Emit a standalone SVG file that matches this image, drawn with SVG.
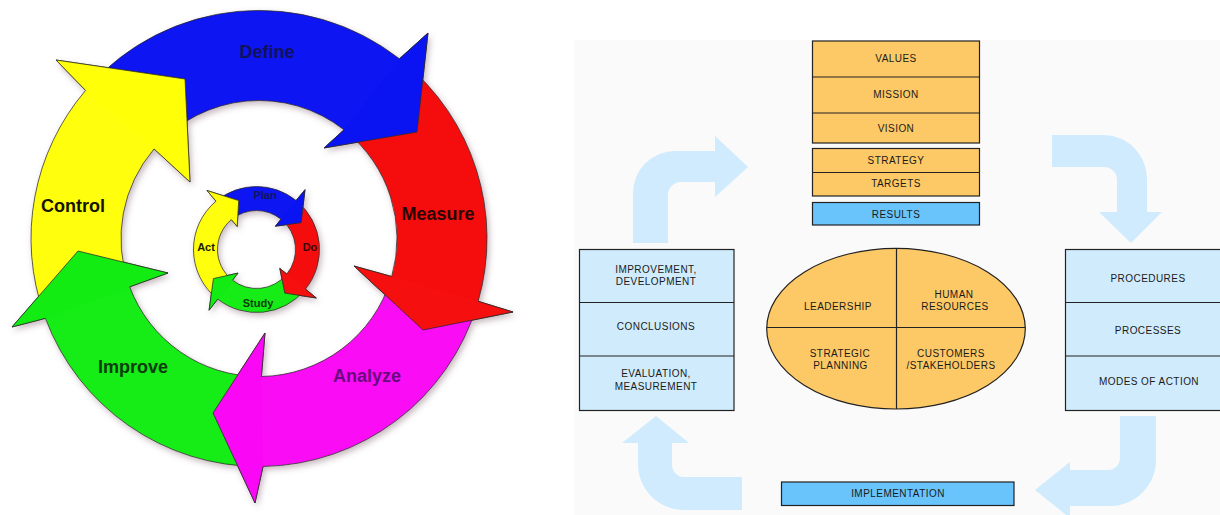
<svg xmlns="http://www.w3.org/2000/svg" width="1220" height="515" viewBox="0 0 1220 515">
<defs>
<filter id="sh" x="-10%" y="-10%" width="120%" height="120%">
<feDropShadow dx="2" dy="3" stdDeviation="3" flood-color="#806070" flood-opacity="0.45"/>
</filter>
<style>
.arw{stroke:#2a2a2a;stroke-width:1;stroke-linejoin:miter;stroke-opacity:0.75}
.hd{stroke:none}
.hs{fill:none;stroke:#2a2a2a;stroke-width:1;stroke-opacity:0.75}
.blue{fill:#0a14f2}.red{fill:#f50f0f}.mag{fill:#fa08f5}.grn{fill:#12ec12}.yel{fill:#ffff08}
.big{font-family:"Liberation Sans",Arial,sans-serif;font-weight:bold;font-size:18px;text-anchor:middle}
.sml{font-family:"Liberation Sans",Arial,sans-serif;font-weight:bold;font-size:11px;text-anchor:middle}
.t{font-family:"Liberation Sans",Arial,sans-serif;font-size:10px;fill:#1a1a1a;text-anchor:middle;letter-spacing:0.45px}
.ob{fill:#fdc966;stroke:#222;stroke-width:1.2}
.lb{fill:#d0ebfc;stroke:#222;stroke-width:1.2}
.db{fill:#69c4fc;stroke:#222;stroke-width:1.2}
.la{fill:#cfebfd}
.ln{stroke:#222;stroke-width:1.2;fill:none}
</style>
</defs>
<rect width="1220" height="515" fill="#ffffff"/>
<rect x="574" y="40" width="646" height="475" fill="#fafafa"/>

<!-- Left: outer DMAIC cycle -->
<g id="outer-cycle">
<g id="outer-bodies" filter="url(#sh)">
<path id="arrow-define" class="arw blue" d="M88.2,87.4 A228,228 0 0 1 399.4,58.8 L428,33 L417,132 L324,148 L344,129.8 A138,138 0 0 0 155.6,147.1 Z"/>
<path id="arrow-measure" class="arw red" d="M402.5,61.3 A228,228 0 0 1 478.2,301.3 L513,312 L423,330 L354,266 L391.7,276.5 A138,138 0 0 0 345.8,131.3 Z"/>
<path id="arrow-analyze" class="arw mag" d="M477,305.2 A228,228 0 0 1 263,466.5 L255,503 L213,413 L265,333 L261.4,376.5 A138,138 0 0 0 391,278.9 Z"/>
<path id="arrow-improve" class="arw grn" d="M259,466.5 A228,228 0 0 1 45.4,318.3 L12,327 L78,251 L168,273 L129.7,286.8 A138,138 0 0 0 259,376.5 Z"/>
<path id="arrow-control" class="arw yel" d="M44.1,314.6 A228,228 0 0 1 85.6,90.4 L56,60 L185,79 L190,182 L154.1,148.9 A138,138 0 0 0 128.9,284.6 Z"/>
</g>
<g id="outer-heads">
<path class="hd blue" d="M399.4,58.8 L428,33 L417,132 L324,148 L344,129.8 Z"/>
<path class="hs" d="M399.4,58.8 L428,33 L417,132 L324,148 L344,129.8"/>
<path class="hd red" d="M478.2,301.3 L513,312 L423,330 L354,266 L391.7,276.5 Z"/>
<path class="hs" d="M478.2,301.3 L513,312 L423,330 L354,266 L391.7,276.5"/>
<path class="hd mag" d="M263,466.5 L255,503 L213,413 L265,333 L261.4,376.5 Z"/>
<path class="hs" d="M263,466.5 L255,503 L213,413 L265,333 L261.4,376.5"/>
<path class="hd grn" d="M45.4,318.3 L12,327 L78,251 L168,273 L129.7,286.8 Z"/>
<path class="hs" d="M45.4,318.3 L12,327 L78,251 L168,273 L129.7,286.8"/>
<path class="hd yel" d="M85.6,90.4 L56,60 L185,79 L190,182 L154.1,148.9 Z"/>
<path class="hs" d="M85.6,90.4 L56,60 L185,79 L190,182 L154.1,148.9"/>
</g>
<g id="outer-labels">
<text class="big" x="267" y="58" fill="#12125a">Define</text>
<text class="big" x="438" y="219.5" fill="#2a0505">Measure</text>
<text class="big" x="367" y="381.5" fill="#6a0a80">Analyze</text>
<text class="big" x="133" y="373" fill="#0c3d0c">Improve</text>
<text class="big" x="73" y="211.5" fill="#141400">Control</text>
</g>
</g>

<!-- Left: inner PDSA cycle -->
<g id="inner-cycle">
<g id="inner-bodies" filter="url(#sh)">
<path id="arrow-plan" class="arw blue" d="M216.9,200.5 A63,63 0 0 1 296.1,200.5 L305,189.7 L301.1,222.7 L275.4,226.2 L281,219.2 A39,39 0 0 0 232,219.2 Z"/>
<path id="arrow-do" class="arw red" d="M297,201.2 A63,63 0 0 1 305.5,289.1 L316.3,298 L284.8,293.1 L279.8,268.4 L286.8,274 A39,39 0 0 0 281.6,219.6 Z"/>
<path id="arrow-study" class="arw grn" d="M304.8,290 A63,63 0 0 1 217.7,299.1 L209.1,310.2 L213.4,278.6 L238,273.1 L232.5,280.2 A39,39 0 0 0 286.4,274.6 Z"/>
<path id="arrow-act" class="arw yel" d="M216.9,298.5 A63,63 0 0 1 216,201.2 L207,190.5 L238.7,200.6 L237.2,226.5 L231.4,219.6 A39,39 0 0 0 232,279.8 Z"/>
</g>
<g id="inner-heads">
<path class="hd blue" d="M296.1,200.5 L305,189.7 L301.1,222.7 L275.4,226.2 L281,219.2 Z"/>
<path class="hs" d="M296.1,200.5 L305,189.7 L301.1,222.7 L275.4,226.2 L281,219.2"/>
<path class="hd red" d="M305.5,289.1 L316.3,298 L284.8,293.1 L279.8,268.4 L286.8,274 Z"/>
<path class="hs" d="M305.5,289.1 L316.3,298 L284.8,293.1 L279.8,268.4 L286.8,274"/>
<path class="hd grn" d="M217.7,299.1 L209.1,310.2 L213.4,278.6 L238,273.1 L232.5,280.2 Z"/>
<path class="hs" d="M217.7,299.1 L209.1,310.2 L213.4,278.6 L238,273.1 L232.5,280.2"/>
<path class="hd yel" d="M216,201.2 L207,190.5 L238.7,200.6 L237.2,226.5 L231.4,219.6 Z"/>
<path class="hs" d="M216,201.2 L207,190.5 L238.7,200.6 L237.2,226.5 L231.4,219.6"/>
</g>
<g id="inner-labels">
<text class="sml" x="265" y="199" fill="#14145a">Plan</text>
<text class="sml" x="310" y="250.7" fill="#3a0505">Do</text>
<text class="sml" x="258" y="307" fill="#0c3d0c">Study</text>
<text class="sml" x="206" y="251.3" fill="#1a1a00">Act</text>
</g>
</g>

<!-- Right: connectors (light blue arrows) -->
<g id="connectors">
<path class="la" d="M633,243 L633,193 A42,42 0 0 1 675,151 L715,151 L715,136 L748,167 L715,197 L715,182 L681,182 A13,13 0 0 0 668,195 L668,243 Z"/>
<path class="la" d="M1052,135 L1103,135 A44,44 0 0 1 1147,179 L1147,212 L1162,212 L1131,243 L1099,212 L1117,212 L1117,180 A13,13 0 0 0 1104,167 L1052,167 Z"/>
<path class="la" d="M1120,416 L1156,416 L1156,460 A46,46 0 0 1 1110,506 L1070,506 L1070,518 L1035,490 L1070,462 L1070,470 L1108,470 A12,12 0 0 0 1120,458 Z"/>
<path class="la" d="M672,443 L672,465 A12,12 0 0 0 684,477 L742,477 L742,510 L684,510 A46,46 0 0 1 638,464 L638,443 L622,443 L656,416 L689,443 Z"/>
</g>

<g id="node-foundation">
<rect class="ob" x="812.5" y="41" width="167" height="102"/>
<line class="ln" x1="812.5" y1="77" x2="979.5" y2="77"/>
<line class="ln" x1="812.5" y1="113" x2="979.5" y2="113"/>
<text class="t" x="896" y="61.5">VALUES</text>
<text class="t" x="896" y="98">MISSION</text>
<text class="t" x="896" y="131.5">VISION</text>
</g>
<g id="node-strategy">
<rect class="ob" x="812.5" y="148.5" width="167" height="47.5"/>
<line class="ln" x1="812.5" y1="172.5" x2="979.5" y2="172.5"/>
<text class="t" x="896" y="163.6">STRATEGY</text>
<text class="t" x="896" y="187.4">TARGETS</text>
</g>
<g id="node-results">
<rect class="db" x="812.5" y="202.5" width="167" height="22.5"/>
<text class="t" x="896" y="217.6">RESULTS</text>
</g>

<g id="node-check">
<rect class="lb" x="579.5" y="249.5" width="154.5" height="161"/>
<line class="ln" x1="579.5" y1="302.5" x2="734" y2="302.5"/>
<line class="ln" x1="579.5" y1="356" x2="734" y2="356"/>
<text class="t" x="656" y="273">IMPROVEMENT,</text>
<text class="t" x="656" y="285.3">DEVELOPMENT</text>
<text class="t" x="656" y="330.3">CONCLUSIONS</text>
<text class="t" x="656" y="377">EVALUATION,</text>
<text class="t" x="656" y="389.6">MEASUREMENT</text>
</g>

<g id="node-core">
<ellipse cx="896" cy="328.7" rx="129.3" ry="80.3" fill="#fdc966" stroke="#222" stroke-width="1.2"/>
<line class="ln" x1="896.5" y1="248.5" x2="896.5" y2="409"/>
<line class="ln" x1="766.7" y1="327.5" x2="1025.3" y2="327.5"/>
<text class="t" x="838" y="309.6">LEADERSHIP</text>
<text class="t" x="954" y="298">HUMAN</text>
<text class="t" x="955" y="310.3">RESOURCES</text>
<text class="t" x="840" y="357">STRATEGIC</text>
<text class="t" x="840.5" y="369.3">PLANNING</text>
<text class="t" x="951" y="357">CUSTOMERS</text>
<text class="t" x="951" y="369.3">/STAKEHOLDERS</text>
</g>

<g id="node-do">
<rect class="lb" x="1065.5" y="249.5" width="160" height="161"/>
<line class="ln" x1="1065.5" y1="302.5" x2="1220" y2="302.5"/>
<line class="ln" x1="1065.5" y1="356" x2="1220" y2="356"/>
<text class="t" x="1148" y="282">PROCEDURES</text>
<text class="t" x="1148" y="333.6">PROCESSES</text>
<text class="t" x="1149" y="385.3">MODES OF ACTION</text>
</g>

<g id="node-implementation">
<rect class="db" x="781.5" y="482" width="232.5" height="23.5"/>
<text class="t" x="898" y="497">IMPLEMENTATION</text>
</g>
</svg>
